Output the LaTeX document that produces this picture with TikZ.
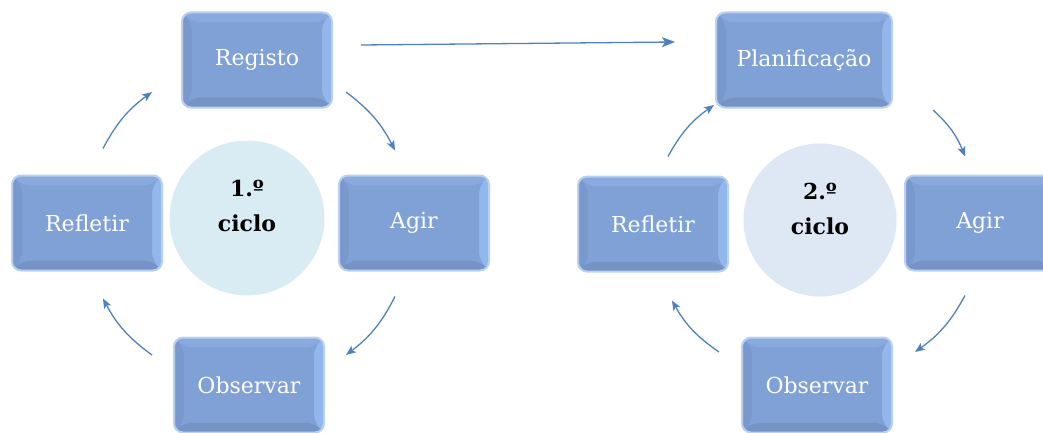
\documentclass[tikz,border=0pt]{standalone}
\usepackage{fontspec}
\setmainfont{DejaVu Serif}
\usetikzlibrary{arrows.meta}
\definecolor{boxface}{RGB}{128,161,214}
\definecolor{boxtop}{RGB}{136,170,222}
\definecolor{boxright}{RGB}{146,183,236}
\definecolor{boxbottom}{RGB}{117,147,196}
\definecolor{boxleft}{RGB}{121,153,206}
\definecolor{boxglow}{RGB}{185,208,240}
\definecolor{arrowblue}{RGB}{79,129,189}
\definecolor{circA}{RGB}{218,236,243}
\definecolor{circB}{RGB}{221,232,244}
\tikzset{
  stepbox/.style={rectangle, rounded corners=9pt, minimum width=150pt, minimum height=95pt,
    draw=boxglow, line width=2pt, text=white, font=\fontsize{22}{26}\selectfont,
    path picture={
      \coordinate (SW) at (path picture bounding box.south west);
      \coordinate (NE) at (path picture bounding box.north east);
      \fill[boxface] (SW) rectangle (NE);
      \fill[boxtop] (SW|-NE) -- (NE) -- ([shift={(-10,-10)}]NE) -- ([shift={(10,-10)}]SW|-NE) -- cycle;
      \fill[boxright] (NE) -- (NE|-SW) -- ([shift={(-10,10)}]NE|-SW) -- ([shift={(-10,-10)}]NE) -- cycle;
      \fill[boxbottom] (SW) -- (NE|-SW) -- ([shift={(-10,10)}]NE|-SW) -- ([shift={(10,10)}]SW) -- cycle;
      \fill[boxleft] (SW) -- (SW|-NE) -- ([shift={(10,-10)}]SW|-NE) -- ([shift={(10,10)}]SW) -- cycle;
      \fill[boxface] ([shift={(10,10)}]SW) rectangle ([shift={(-10,-10)}]NE);
    }},
  cyclecirc/.style={circle, minimum size=155pt, inner sep=0pt},
  cycletext/.style={align=center, font=\fontsize{22}{35}\selectfont\bfseries, text=black},
  cyc/.style={draw=arrowblue, line width=1.3pt, -{Stealth[length=10pt,width=8pt,inset=2.5pt]}, bend left=13},
}
\begin{document}
\begin{tikzpicture}[x=1pt,y=1pt]
\useasboundingbox (0,0) rectangle (1043,432);
\clip (0,0) rectangle (1043,432);
% first cycle
\node[cyclecirc, fill=circA] (cir1) at (247,214) {};
\node[cycletext] (txt1) at (247,226) {1.º\\ciclo};
\node[stepbox] (reg1) at (257,372) {Registo};
\node[stepbox] (ref1) at (87,209) {Refletir};
\node[stepbox] (agi1) at (414,209) {Agir};
\node[stepbox] (obs1) at (249,47) {Observar};
% second cycle
\node[cyclecirc, fill=circB, minimum size=153pt] (cir2) at (820,212) {};
\node[cycletext] (txt2) at (820,223) {2.º\\ciclo};
\node[stepbox, minimum width=176pt] (pla2) at (804,372) {Planificação};
\node[stepbox] (ref2) at (653,208) {Refletir};
\node[stepbox] (agi2) at (980,209) {Agir};
\node[stepbox] (obs2) at (817,47) {Observar};
% arrows first cycle
\draw[cyc] ([shift={(16,26)}]ref1.north) to ([shift={(-29,-32)}]reg1.west);
\draw[cyc] ([shift={(13,-32)}]reg1.east) to ([shift={(-19,24)}]agi1.north);
\draw[cyc] ([shift={(-19,-25)}]agi1.south) to ([shift={(21,30)}]obs1.east);
\draw[cyc] ([shift={(-21,30)}]obs1.west) to ([shift={(16,-27)}]ref1.south);
% arrows second cycle
\draw[cyc] ([shift={(15,19)}]ref2.north) to ([shift={(-1,-45)}]pla2.west);
\draw[cyc] ([shift={(40,-50)}]pla2.east) to ([shift={(-15,18)}]agi2.north);
\draw[cyc] ([shift={(-15,-24)}]agi2.south) to ([shift={(22,33)}]obs2.east);
\draw[cyc] ([shift={(-22,33)}]obs2.west) to ([shift={(19,-28)}]ref2.south);
% long arrow
\draw[draw=arrowblue, line width=1.3pt, -{Stealth[length=13pt,width=10pt,inset=3pt]}]
  ([shift={(28,15)}]reg1.east) -- ([shift={(-40,18)}]pla2.west);
\end{tikzpicture}
\end{document}
